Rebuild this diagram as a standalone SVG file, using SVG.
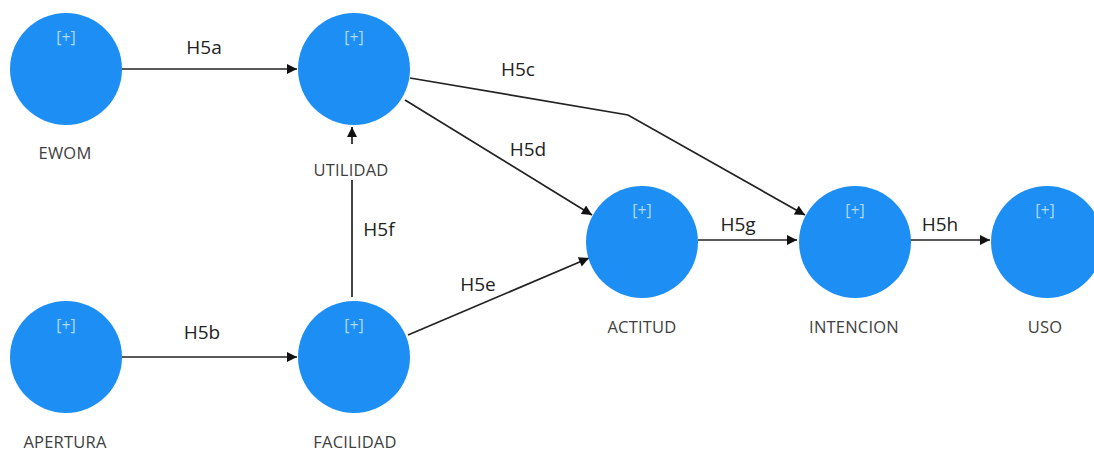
<svg xmlns="http://www.w3.org/2000/svg" width="1094" height="453" viewBox="0 0 1094 453">
  <style>
    .node { fill: #1c8ef4; }
    .plus { font-family: "Open Sans", "Noto Sans", sans-serif; font-size: 16px; fill: #b0d8ff; text-anchor: middle; }
    .name { font-family: "Open Sans", "Noto Sans", sans-serif; font-size: 16.5px; fill: #404040; text-anchor: middle; letter-spacing: 0.2px; }
    .edge { stroke: #222; stroke-width: 1.7; fill: none; marker-end: url(#arrow); }
    .hyp { font-family: "Open Sans", "Noto Sans", sans-serif; font-size: 19px; font-weight: 500; fill: #222; text-anchor: middle; }
  </style>
  <defs>
    <marker id="arrow" viewBox="0 0 10 10" refX="10" refY="5" markerWidth="12" markerHeight="10" markerUnits="userSpaceOnUse" orient="auto">
      <path d="M0,0 L10,5 L0,10 z" fill="#111"/>
    </marker>
  </defs>
  <rect width="1094" height="453" fill="#ffffff"/>

  <g id="connectors">
    <line class="edge" x1="122" y1="69" x2="297" y2="69"/>
    <line class="edge" x1="122" y1="357" x2="297" y2="357"/>
    <line class="edge" x1="352" y1="297" x2="352" y2="127"/>
    <polyline class="edge" points="410,78 628,115 805,215"/>
    <line class="edge" x1="405" y1="100" x2="592" y2="215"/>
    <line class="edge" x1="408" y1="335" x2="589" y2="258"/>
    <line class="edge" x1="698" y1="240" x2="797" y2="240"/>
    <line class="edge" x1="910" y1="240" x2="990" y2="240"/>
    <text class="hyp" x="204" y="54">H5a</text>
    <text class="hyp" x="202" y="339">H5b</text>
    <text class="hyp" x="518" y="76">H5c</text>
    <text class="hyp" x="528" y="156">H5d</text>
    <text class="hyp" x="478" y="291">H5e</text>
    <text class="hyp" x="379" y="236">H5f</text>
    <text class="hyp" x="738" y="231">H5g</text>
    <text class="hyp" x="940" y="231">H5h</text>
  </g>

  <g id="ewom">
    <circle class="node" cx="66" cy="69" r="56"/>
    <text class="plus" x="66" y="43">[+]</text>
    <text class="name" x="65" y="159">EWOM</text>
  </g>
  <g id="utilidad">
    <circle class="node" cx="354" cy="69" r="56"/>
    <text class="plus" x="354" y="43">[+]</text>
    <rect x="302" y="144" width="98" height="36" fill="#ffffff"/>
    <text class="name" x="351" y="176">UTILIDAD</text>
  </g>
  <g id="apertura">
    <circle class="node" cx="66" cy="357" r="56"/>
    <text class="plus" x="66" y="331">[+]</text>
    <text class="name" x="65" y="448">APERTURA</text>
  </g>
  <g id="facilidad">
    <circle class="node" cx="354" cy="357" r="56"/>
    <text class="plus" x="354" y="331">[+]</text>
    <text class="name" x="355" y="448">FACILIDAD</text>
  </g>
  <g id="actitud">
    <circle class="node" cx="642" cy="242" r="56"/>
    <text class="plus" x="642" y="216">[+]</text>
    <text class="name" x="642" y="333">ACTITUD</text>
  </g>
  <g id="intencion">
    <circle class="node" cx="855" cy="242" r="56"/>
    <text class="plus" x="855" y="216">[+]</text>
    <text class="name" x="854" y="333">INTENCION</text>
  </g>
  <g id="uso">
    <circle class="node" cx="1047" cy="242" r="56"/>
    <text class="plus" x="1045" y="216">[+]</text>
    <text class="name" x="1045" y="333">USO</text>
  </g>
</svg>
